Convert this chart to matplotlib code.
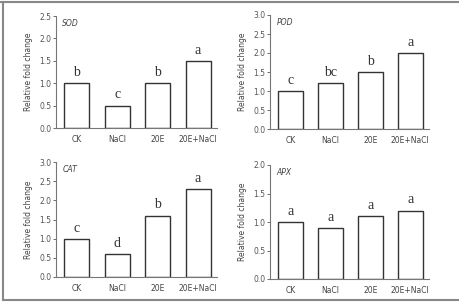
import matplotlib
matplotlib.use("Agg")
import matplotlib.pyplot as plt
from matplotlib.lines import Line2D

# Data
groups = ["CK", "NaCl", "20E", "20E+NaCl"]
sod = [1.0, 0.5, 1.0, 1.5]
pod = [1.0, 1.2, 1.5, 2.0]
cat = [1.0, 0.6, 1.6, 2.3]
apx = [1.0, 0.9, 1.1, 1.2]
sod_letters = ["b", "c", "b", "a"]
pod_letters = ["c", "bc", "b", "a"]
cat_letters = ["c", "d", "b", "a"]
apx_letters = ["a", "a", "a", "a"]

W, H = 459, 304


def px_rect(left, top, right, bottom):
    # convert pixel box to figure fraction rect
    return [left / W, 1 - bottom / H, (right - left) / W, (bottom - top) / H]


def draw_panel(ax, values, letters, name, ymax):
    x = range(len(groups))
    ax.bar(x, values, width=0.62, color="white", edgecolor="#333333", linewidth=1.0)
    for xi, v, lab in zip(x, values, letters):
        ax.annotate(lab, (xi, v), xytext=(0, 3), textcoords="offset points",
                    ha="center", va="bottom", fontsize=10, family="Liberation Serif",
                    color="#333333")
    ax.set_ylim(0, ymax)
    ax.set_xlim(-0.52, 3.47)
    ax.set_yticks([i * 0.5 for i in range(int(ymax / 0.5) + 1)])
    ax.set_yticklabels(["%.1f" % (i * 0.5) for i in range(int(ymax / 0.5) + 1)])
    ax.set_xticks(list(x))
    ax.set_xticklabels(groups)
    ax.tick_params(axis="y", length=2, width=0.6, pad=1.5, labelsize=5.5, colors="#555555")
    ax.tick_params(axis="x", length=0, pad=5, labelsize=5.5, colors="#444444")
    for s in ["top", "right"]:
        ax.spines[s].set_visible(False)
    for s in ["left", "bottom"]:
        ax.spines[s].set_color("#777777")
        ax.spines[s].set_linewidth(0.8)
    ax.set_ylabel("Relative fold change", fontsize=5.5, color="#444444", labelpad=4)
    ax.text(0.04, 0.97, name, transform=ax.transAxes, fontsize=5.5, style="italic",
            ha="left", va="top", color="#444444")


fig = plt.figure(figsize=(W / 100, H / 100), dpi=100)

ax1 = fig.add_axes(px_rect(56, 16, 217, 128))
draw_panel(ax1, sod, sod_letters, "SOD", 2.5)
ax2 = fig.add_axes(px_rect(270, 15, 429, 129))
draw_panel(ax2, pod, pod_letters, "POD", 3.0)
ax3 = fig.add_axes(px_rect(56, 162, 217, 277))
draw_panel(ax3, cat, cat_letters, "CAT", 3.0)
ax4 = fig.add_axes(px_rect(270, 165, 429, 279))
draw_panel(ax4, apx, apx_letters, "APX", 2.0)

# grey frame around the figure (top, left, bottom)
frame_kw = dict(transform=fig.transFigure, color="#888888", linewidth=1.5)
fig.add_artist(Line2D([0, 1], [1 - 2 / H, 1 - 2 / H], **frame_kw))
fig.add_artist(Line2D([3 / W, 3 / W], [1 - 2 / H, 1 - 300 / H], **frame_kw))
fig.add_artist(Line2D([3 / W, 1], [1 - 300 / H, 1 - 300 / H], **frame_kw))

fig.savefig("out.png", dpi=100)
